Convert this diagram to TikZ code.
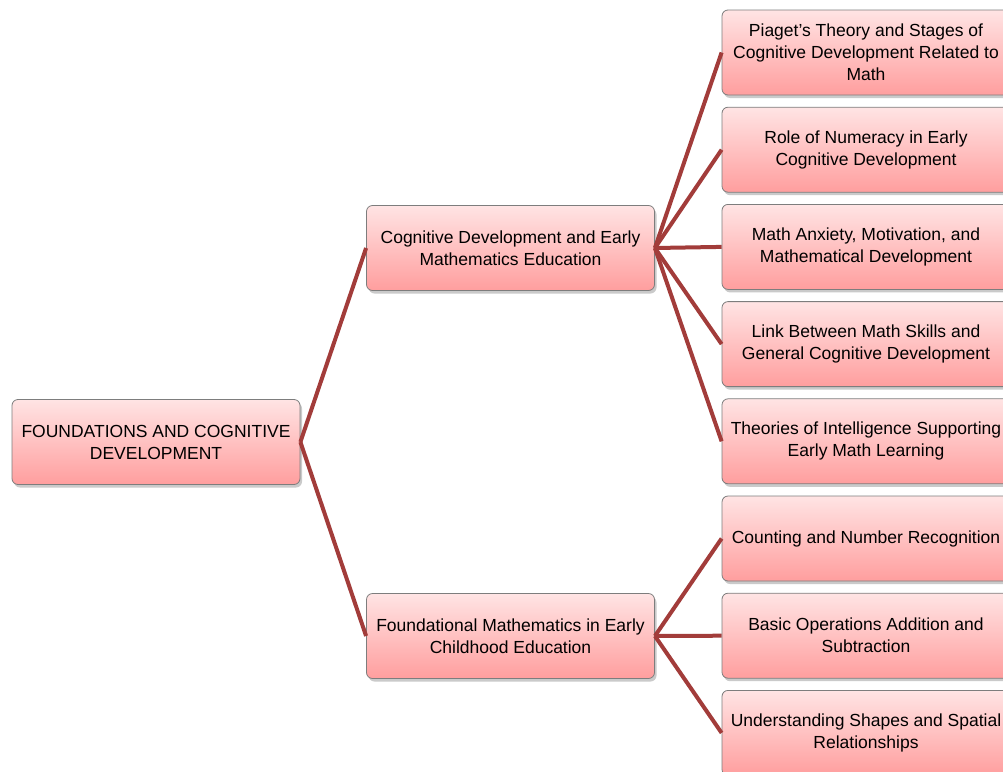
\documentclass[tikz,border=0pt]{standalone}
\usepackage{fontspec}
\setmainfont{Liberation Sans}
\usepackage{tikz}
\usetikzlibrary{shadows}

\definecolor{boxtop}{RGB}{255,228,228}
\definecolor{boxbottom}{RGB}{255,158,158}
\definecolor{boxline}{RGB}{125,125,125}
\definecolor{linkred}{RGB}{162,60,58}

\tikzset{
  topic/.style={draw=boxline, line width=0.8pt, rounded corners=6pt,
    top color=boxtop, bottom color=boxbottom,
    minimum width=288pt, minimum height=85pt, align=center,
    font=\fontsize{17.5}{22}\selectfont,
    drop shadow={shadow xshift=2pt, shadow yshift=-3pt, opacity=0.35, fill=black!60}},
  link/.style={draw=linkred, line width=4pt}
}

\begin{document}
\begin{tikzpicture}[x=1pt,y=-1pt]
\useasboundingbox (0,0) rectangle (1003,771);
\clip (0,0) rectangle (1003,771);
\node[topic] (root) at (156,442) {FOUNDATIONS AND COGNITIVE\\DEVELOPMENT};
\node[topic] (cog) at (510.5,248) {Cognitive Development and Early\\Mathematics Education};
\node[topic] (fnd) at (510.5,636) {Foundational Mathematics in Early\\Childhood Education};
% leaves
\foreach \name/\k/\txt in {
  piaget/0/{Piaget’s Theory and Stages of\\Cognitive Development Related to\\Math},
  numeracy/1/{Role of Numeracy in Early\\Cognitive Development},
  anxiety/2/{Math Anxiety, Motivation, and\\Mathematical Development},
  link/3/{Link Between Math Skills and\\General Cognitive Development},
  theories/4/{Theories of Intelligence Supporting\\Early Math Learning},
  counting/5/{Counting and Number Recognition},
  basic/6/{Basic Operations Addition and\\Subtraction},
  shapes/7/{Understanding Shapes and Spatial\\Relationships}}
  \node[topic] (\name) at (866,52.5+97.2*\k) {\txt};
\draw[link] (root.east) -- (cog.west);
\draw[link] (root.east) -- (fnd.west);
\foreach \leaf in {piaget,numeracy,anxiety,link,theories}
  \draw[link] (cog.east) -- (\leaf.west);
\foreach \leaf in {counting,basic,shapes}
  \draw[link] (fnd.east) -- (\leaf.west);
\end{tikzpicture}
\end{document}
